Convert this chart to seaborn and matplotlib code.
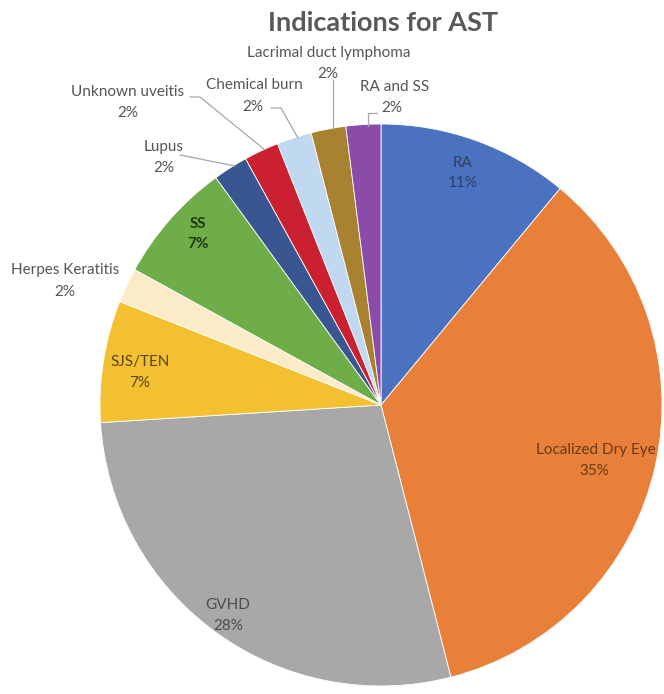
import matplotlib
matplotlib.use("Agg")
import matplotlib.pyplot as plt
import seaborn as sns

sns.set_theme(style="white")
plt.rcParams["font.family"] = ["Lato", "DejaVu Sans"]

# Indications, clockwise from 12 o'clock
categories = ["RA", "Localized Dry Eye", "GVHD", "SJS/TEN", "Herpes Keratitis",
              "SS", "Lupus", "Unknown uveitis", "Chemical burn",
              "Lacrimal duct lymphoma", "RA and SS"]
percents = [11, 35, 28, 7, 2, 7, 2, 2, 2, 2, 2]
slice_colors = ["#4A72C0", "#E8803A", "#A8A8A8", "#F2C030", "#FCEBC8",
                "#6EAD48", "#3A5690", "#CB2030", "#C0D8F0", "#A88230", "#8A4CA8"]
palette = sns.color_palette(slice_colors)

W, H = 664, 694
fig = plt.figure(figsize=(W / 100, H / 100), dpi=100)
ax = fig.add_axes([0, 0, 1, 1])

cx, cy, r = 381, 405, 281
# y axis is inverted (pixel-style), so a counterclockwise sweep in data
# space appears clockwise, and -90 degrees points to the top
wedges, _ = ax.pie(percents, colors=palette, startangle=-90, counterclock=True,
                   center=(cx, cy), radius=r, frame=True,
                   wedgeprops=dict(edgecolor="white", linewidth=0.6))
ax.set_xlim(0, W)
ax.set_ylim(H, 0)
ax.set_aspect("equal")
ax.axis("off")

ax.text(383, 23, "Indications for AST", ha="center", va="center",
        fontsize=19.5, fontweight="bold", color="#595959")

txt = "#555555"
# label name position, percent position, colour, weight
labels = {
    "RA": ((463, 163), (463, 183), "#2F3F60", "normal"),
    "Localized Dry Eye": ((596, 450), (594, 471), "#6B3A1A", "normal"),
    "GVHD": ((228, 605), (228, 626), "#4D4D4D", "normal"),
    "SJS/TEN": ((140, 362), (140, 383), "#5A4510", "normal"),
    "Herpes Keratitis": ((65, 270), (65, 292), txt, "normal"),
    "SS": ((198, 224), (198, 244), "#1E3A12", "bold"),
    "Lupus": ((164, 147), (164, 168), txt, "normal"),
    "Unknown uveitis": ((128, 92), (128, 113), txt, "normal"),
    "Chemical burn": ((254, 85), (253, 107), txt, "normal"),
    "Lacrimal duct lymphoma": ((329, 53), (328, 74), txt, "normal"),
    "RA and SS": ((395, 87), (392, 108), txt, "normal"),
}
for name, p in zip(categories, percents):
    (nx, ny), (px, py), col, wt = labels[name]
    ax.text(nx, ny, name, ha="center", va="center", fontsize=11, color=col, fontweight=wt)
    ax.text(px, py, f"{p}%", ha="center", va="center", fontsize=11, color=col, fontweight=wt)

# leader lines for the small outer labels
leaders = [
    [(190, 97), (200, 97), (265, 150)],    # Unknown uveitis
    [(271, 108), (281, 108), (298, 138)],  # Chemical burn
    [(333, 80), (333, 129)],               # Lacrimal duct lymphoma
    [(377, 113), (368, 113), (368, 126)],  # RA and SS
    [(180, 155), (235, 166)],              # Lupus
]
for pts in leaders:
    xs, ys = zip(*pts)
    ax.plot(xs, ys, color="#A6A6A6", lw=0.9)

fig.savefig("out.png", dpi=100)
